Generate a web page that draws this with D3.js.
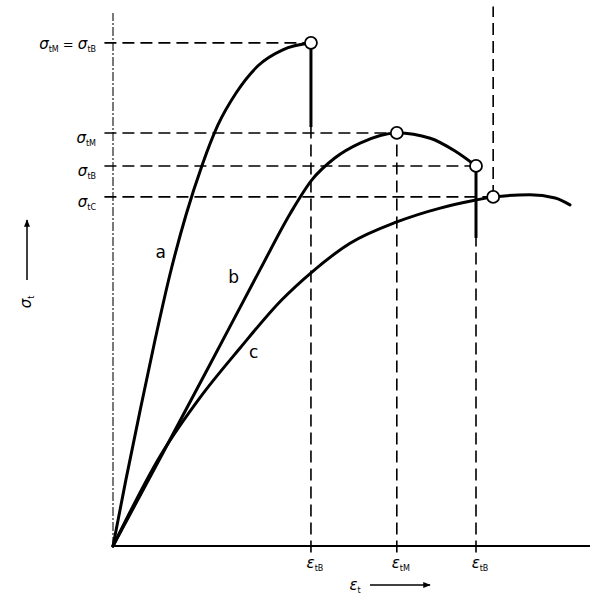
<!DOCTYPE html>
<html>
<head>
<meta charset="utf-8">
<script src="https://cdn.jsdelivr.net/npm/d3@7"></script>
<style>
  html, body { margin: 0; padding: 0; background: #fff; }
  svg { display: block; }
</style>
</head>
<body>
<svg id="chart" width="600" height="600"></svg>
<script>
// ---- data (arbitrary strain / stress units) ----
const curveA = [[0,0],[2.7,12.4],[5.7,25.5],[8.8,38.6],[11.9,50.8],[15.3,62.1],[18.7,71.5],[22.0,79.0],[25.8,85.0],[30.4,90.1],[35.6,93.1],[41.5,94.4]];
const curveB = [[0,0],[9.9,16.5],[20.3,34.0],[30.8,51.8],[37.1,62.3],[41.7,68.7],[46.5,72.8],[51.8,75.6],[59.5,77.5],[66.5,76.5],[71.7,74.1],[76.1,71.3]];
const curveC = [[0,0],[9.9,16.9],[18.2,27.8],[26.6,37.1],[35.4,46.2],[41.7,51.4],[49.7,56.8],[59.5,60.8],[68.6,63.4],[76.1,64.9],[79.7,65.5],[87.4,65.9],[92.7,65.3],[95.8,64.0]];
const markers = [[41.5,94.4],[59.5,77.5],[76.1,71.3],[79.7,65.5]];   // break / max points
const drops = [[41.5,94.4,78.6],[76.1,71.3,57.8]];                    // fracture drops
const xTickVals = [41.5, 59.5, 76.1];
const xTickTops = [94.4, 77.5, 71.3];
const xTickSubs = ["tB", "tM", "tB"];
const yTickVals = [94.4, 77.5, 71.3, 65.5];
const yLineEnds = [41.5, 59.5, 76.1, 79.7];
const yTickLabels = [[["σ","tM"],["σ","tB"]], [["σ","tM"]], [["σ","tB"]], [["σ","tC"]]];
const curveLabels = [["a",10.0,55.0],["b",25.3,50.3],["c",29.5,36.3]];

const svg = d3.select("#chart");
const x = d3.scaleLinear().domain([0,100]).range([113,590]);
const y = d3.scaleLinear().domain([0,100]).range([546,13]);
const font = "'DejaVu Sans', sans-serif";

// y axis (thin, scanned look)
svg.append("line").attr("x1",x(0)).attr("x2",x(0)).attr("y1",y(0)).attr("y2",y(100))
  .attr("stroke","#333").attr("stroke-width",1.3).attr("stroke-dasharray","9,2,2,2");
// x axis
svg.append("line").attr("x1",x(0)).attr("x2",x(100)).attr("y1",y(0)).attr("y2",y(0))
  .attr("stroke","#000").attr("stroke-width",2.2);

// dashed guide lines
const g = svg.append("g").attr("stroke","#000").attr("stroke-width",1.6).attr("stroke-dasharray","12,6").attr("fill","none");
yTickVals.forEach((v,i) => {
  g.append("line").attr("x1",x(-1.8)).attr("x2",x(yLineEnds[i])).attr("y1",y(v)).attr("y2",y(v));
});
xTickVals.forEach((v,i) => {
  g.append("line").attr("x1",x(v)).attr("x2",x(v)).attr("y1",y(-1.2)).attr("y2",y(xTickTops[i]));
});
g.append("line").attr("x1",x(79.7)).attr("x2",x(79.7)).attr("y1",y(65.5)).attr("y2",y(101.2));

// curves
const line = d3.line().x(d=>x(d[0])).y(d=>y(d[1])).curve(d3.curveMonotoneX);
[curveA, curveB, curveC].forEach(c => {
  svg.append("path").attr("d",line(c)).attr("fill","none").attr("stroke","#000")
    .attr("stroke-width",3).attr("stroke-linecap","round");
});
// drops
drops.forEach(d => {
  svg.append("line").attr("x1",x(d[0])).attr("x2",x(d[0])).attr("y1",y(d[1])).attr("y2",y(d[2]))
    .attr("stroke","#000").attr("stroke-width",3);
});
// markers
markers.forEach(m => {
  svg.append("circle").attr("cx",x(m[0])).attr("cy",y(m[1])).attr("r",6)
    .attr("fill","#fff").attr("stroke","#000").attr("stroke-width",1.8);
});

// curve labels
curveLabels.forEach(l => {
  svg.append("text").attr("x",x(l[1])).attr("y",y(l[2])).attr("text-anchor","middle")
    .attr("dominant-baseline","middle").attr("font-family",font).attr("font-size",17).text(l[0]);
});

// helper for sigma/epsilon with subscript
function symText(parent, xx, yy, parts, anchor, size, subSize) {
  const t = parent.append("text").attr("x",xx).attr("y",yy).attr("text-anchor",anchor)
    .attr("font-family",font).attr("font-size",size).attr("fill","#000");
  parts.forEach((p,i) => {
    if (i>0) t.append("tspan").attr("font-size",size-2).attr("dy",-3).text(" = ");
    t.append("tspan").attr("font-style","italic").text(p[0]);
    t.append("tspan").attr("font-size",subSize).attr("dy",3).text(p[1]);
  });
  return t;
}

// y tick labels
yTickVals.forEach((v,i) => {
  symText(svg, 96, y(v) + (i===0 ? 6 : 10), yTickLabels[i], "end", 15, 8);
});
// x tick labels
xTickVals.forEach((v,i) => {
  symText(svg, x(v)+4, 568, [["ε", xTickSubs[i]]], "middle", 15, 8);
});
// x axis title with arrow
symText(svg, 355, 590, [["ε","t"]], "middle", 15, 8);
svg.append("defs").append("marker").attr("id","arr").attr("viewBox","0 0 10 10").attr("refX",9).attr("refY",5)
  .attr("markerWidth",7).attr("markerHeight",5).attr("orient","auto")
  .append("path").attr("d","M0,1 L10,5 L0,9 Z").attr("fill","#000");
svg.append("line").attr("x1",370).attr("x2",430).attr("y1",585).attr("y2",585)
  .attr("stroke","#000").attr("stroke-width",1.5).attr("marker-end","url(#arr)");

// y axis title (rotated) with arrow
const yt = svg.append("g").attr("transform","translate(31,302) rotate(-90)");
symText(yt, 0, 0, [["σ","t"]], "middle", 15, 8);
svg.append("line").attr("x1",27).attr("x2",27).attr("y1",280).attr("y2",220)
  .attr("stroke","#000").attr("stroke-width",1.5).attr("marker-end","url(#arr)");
</script>
</body>
</html>
